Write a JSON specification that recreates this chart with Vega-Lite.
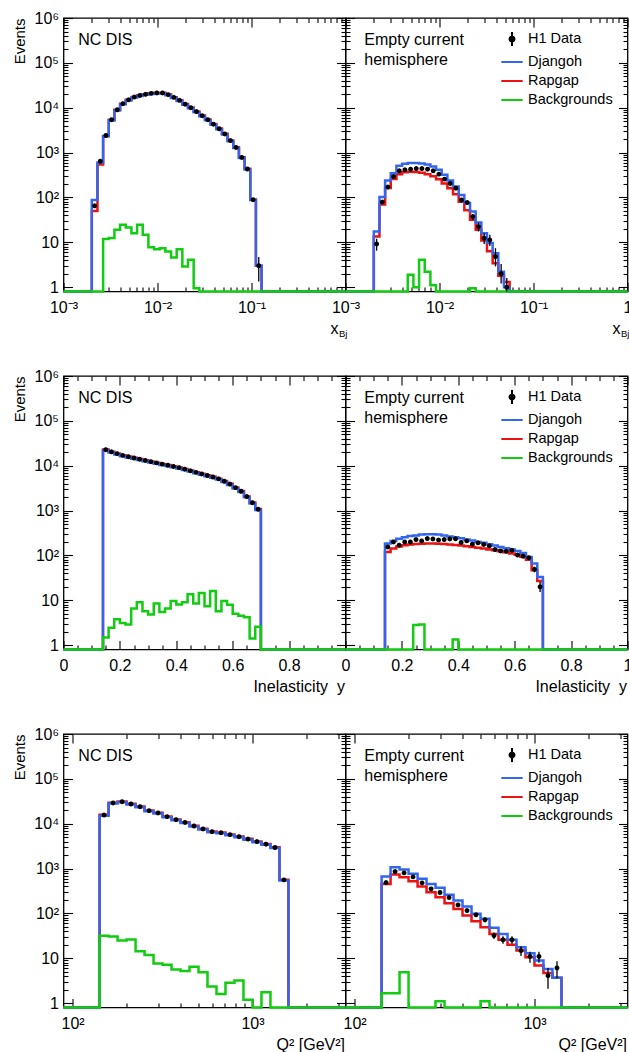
{
"$schema":"https://vega.github.io/schema/vega-lite/v6.json",
"background":"white",
"padding":{"left":10.5,"top":9,"right":0,"bottom":0},
"autosize":{"type":"pad"},
"config":{"font":"Liberation Sans","view":{"stroke":"black","strokeWidth":1.3},
"axis":{"domain":false,"grid":false,"ticks":true,"tickColor":"black","tickOpacity":1,"tickWidth":1.1,"zindex":1,"labelFont":"Liberation Sans","labelFontSize":16,"labelColor":"black","titleFont":"Liberation Sans","titleFontSize":16,"titleFontWeight":"normal","titleColor":"black"},
"legend":{"symbolSize":190,"symbolStrokeWidth":2,"labelFont":"Liberation Sans","labelFontSize":14.5,"labelColor":"black","labelOffset":8,"rowPadding":4,"padding":0}},
"datasets":{
"p1":[
{"x":0.001,"Djangoh":0.8,"Rapgap":0.8,"Backgrounds":0.8},
{"x":0.002,"c":0.002144,"Djangoh":88,"Rapgap":50,"Backgrounds":0.8,"H1 Data":65},
{"x":0.002297,"c":0.002462,"Djangoh":600,"Rapgap":540,"Backgrounds":0.8,"H1 Data":640},
{"x":0.002639,"c":0.002828,"Djangoh":2300,"Rapgap":2350,"Backgrounds":11.8,"H1 Data":2400},
{"x":0.003031,"c":0.003249,"Djangoh":5200,"Rapgap":5400,"Backgrounds":12.4,"H1 Data":5400},
{"x":0.003482,"c":0.003732,"Djangoh":8700,"Rapgap":9000,"Backgrounds":19,"H1 Data":9000},
{"x":0.004,"c":0.004287,"Djangoh":11900,"Rapgap":12300,"Backgrounds":24.5,"H1 Data":12300},
{"x":0.004595,"c":0.004925,"Djangoh":14500,"Rapgap":15000,"Backgrounds":21.5,"H1 Data":15000},
{"x":0.005278,"c":0.005657,"Djangoh":16800,"Rapgap":17300,"Backgrounds":16,"H1 Data":17300},
{"x":0.006063,"c":0.006498,"Djangoh":18300,"Rapgap":18900,"Backgrounds":24.5,"H1 Data":18800},
{"x":0.006964,"c":0.007464,"Djangoh":19400,"Rapgap":20000,"Backgrounds":14.7,"H1 Data":19900},
{"x":0.008,"c":0.008574,"Djangoh":20300,"Rapgap":21000,"Backgrounds":7.8,"H1 Data":20900},
{"x":0.00919,"c":0.009849,"Djangoh":20800,"Rapgap":21600,"Backgrounds":7,"H1 Data":21400},
{"x":0.010556,"c":0.011314,"Djangoh":20800,"Rapgap":21600,"Backgrounds":7.4,"H1 Data":21400},
{"x":0.012126,"c":0.012996,"Djangoh":19000,"Rapgap":19800,"Backgrounds":6.2,"H1 Data":19600},
{"x":0.013929,"c":0.014929,"Djangoh":16500,"Rapgap":17200,"Backgrounds":4.6,"H1 Data":17000},
{"x":0.016,"c":0.017148,"Djangoh":14100,"Rapgap":14700,"Backgrounds":7,"H1 Data":14600},
{"x":0.018379,"c":0.019698,"Djangoh":11600,"Rapgap":12100,"Backgrounds":2.9,"H1 Data":12000},
{"x":0.021112,"c":0.022627,"Djangoh":9700,"Rapgap":10100,"Backgrounds":4.1,"H1 Data":10000},
{"x":0.024251,"c":0.025992,"Djangoh":7950,"Rapgap":8250,"Backgrounds":0.95,"H1 Data":8200},
{"x":0.027858,"c":0.029857,"Djangoh":6450,"Rapgap":6700,"Backgrounds":0.8,"H1 Data":6650},
{"x":0.032,"c":0.034297,"Djangoh":5250,"Rapgap":5450,"Backgrounds":0.8,"H1 Data":5400},
{"x":0.036758,"c":0.039397,"Djangoh":4180,"Rapgap":4350,"Backgrounds":0.8,"H1 Data":4300},
{"x":0.042224,"c":0.045255,"Djangoh":3300,"Rapgap":3430,"Backgrounds":0.8,"H1 Data":3400},
{"x":0.048503,"c":0.051984,"Djangoh":2520,"Rapgap":2620,"Backgrounds":0.8,"H1 Data":2600},
{"x":0.055715,"c":0.059714,"Djangoh":1800,"Rapgap":1870,"Backgrounds":0.8,"H1 Data":1850},
{"x":0.064,"c":0.068594,"Djangoh":1260,"Rapgap":1310,"Backgrounds":0.8,"H1 Data":1300},
{"x":0.073517,"c":0.078793,"Djangoh":760,"Rapgap":790,"Backgrounds":0.8,"H1 Data":780},
{"x":0.084448,"c":0.09051,"Djangoh":420,"Rapgap":435,"Backgrounds":0.8,"H1 Data":430},
{"x":0.097006,"c":0.10397,"Djangoh":88,"Rapgap":90,"Backgrounds":0.8,"H1 Data":89},
{"x":0.11143,"c":0.11943,"Djangoh":3,"Rapgap":3,"Backgrounds":0.8,"H1 Data":3,"lo":1.34,"hi":4.7},
{"x":0.128,"Djangoh":0.8,"Rapgap":0.8,"Backgrounds":0.8},
{"x":1,"Djangoh":0.8,"Rapgap":0.8,"Backgrounds":0.8}],
"p2":[
{"x":0.001,"Djangoh":0.8,"Rapgap":0.8,"Backgrounds":0.8},
{"x":0.002,"c":0.002144,"Djangoh":17.4,"Rapgap":13.5,"Backgrounds":0.8,"H1 Data":9.2,"lo":6.5,"hi":12},
{"x":0.002297,"c":0.002462,"Djangoh":102,"Rapgap":70,"Backgrounds":0.8,"H1 Data":79},
{"x":0.002639,"c":0.002828,"Djangoh":238,"Rapgap":162,"Backgrounds":0.8,"H1 Data":170},
{"x":0.003031,"c":0.003249,"Djangoh":348,"Rapgap":256,"Backgrounds":0.8,"H1 Data":292},
{"x":0.003482,"c":0.003732,"Djangoh":507,"Rapgap":330,"Backgrounds":0.8,"H1 Data":392},
{"x":0.004,"c":0.004287,"Djangoh":562,"Rapgap":365,"Backgrounds":0.8,"H1 Data":412},
{"x":0.004595,"c":0.004925,"Djangoh":582,"Rapgap":375,"Backgrounds":1.9,"H1 Data":427},
{"x":0.005278,"c":0.005657,"Djangoh":582,"Rapgap":370,"Backgrounds":1.0,"H1 Data":441},
{"x":0.006063,"c":0.006498,"Djangoh":570,"Rapgap":355,"Backgrounds":4.1,"H1 Data":441},
{"x":0.006964,"c":0.007464,"Djangoh":540,"Rapgap":330,"Backgrounds":2.2,"H1 Data":427},
{"x":0.008,"c":0.008574,"Djangoh":490,"Rapgap":295,"Backgrounds":1.1,"H1 Data":392},
{"x":0.00919,"c":0.009849,"Djangoh":412,"Rapgap":255,"Backgrounds":0.8,"H1 Data":331},
{"x":0.010556,"c":0.011314,"Djangoh":319,"Rapgap":205,"Backgrounds":0.8,"H1 Data":256},
{"x":0.012126,"c":0.012996,"Djangoh":238,"Rapgap":160,"Backgrounds":0.8,"H1 Data":205},
{"x":0.013929,"c":0.014929,"Djangoh":175,"Rapgap":118,"Backgrounds":0.8,"H1 Data":161},
{"x":0.016,"c":0.017148,"Djangoh":114,"Rapgap":80,"Backgrounds":0.8,"H1 Data":88},
{"x":0.018379,"c":0.019698,"Djangoh":75,"Rapgap":52,"Backgrounds":0.8,"H1 Data":77},
{"x":0.021112,"c":0.022627,"Djangoh":48.5,"Rapgap":32,"Backgrounds":0.95,"H1 Data":37.5,"lo":31.6,"hi":43},
{"x":0.024251,"c":0.025992,"Djangoh":27.6,"Rapgap":19,"Backgrounds":0.8,"H1 Data":22.4,"lo":17.4,"hi":27.5},
{"x":0.027858,"c":0.029857,"Djangoh":16,"Rapgap":11,"Backgrounds":0.8,"H1 Data":12.4,"lo":9.2,"hi":16},
{"x":0.032,"c":0.034297,"Djangoh":9.6,"Rapgap":6.3,"Backgrounds":0.8,"H1 Data":11.3,"lo":8.3,"hi":14.7},
{"x":0.036758,"c":0.039397,"Djangoh":5.7,"Rapgap":3.4,"Backgrounds":0.8,"H1 Data":4.8,"lo":2.9,"hi":7.4},
{"x":0.042224,"c":0.045255,"Djangoh":2.2,"Rapgap":1.8,"Backgrounds":0.8,"H1 Data":2.0,"lo":1.2,"hi":3.3},
{"x":0.048503,"c":0.051984,"Djangoh":1.0,"Rapgap":1.3,"Backgrounds":0.8,"H1 Data":1.0,"lo":0.8,"hi":1.6},
{"x":0.055715,"Djangoh":0.8,"Rapgap":0.8,"Backgrounds":0.8},
{"x":1,"Djangoh":0.8,"Rapgap":0.8,"Backgrounds":0.8}],
"p3":[
{"x":0,"Djangoh":0.8,"Rapgap":0.8,"Backgrounds":0.8},
{"x":0.14,"c":0.15,"Djangoh":21900,"Rapgap":23000,"Backgrounds":1.48,"H1 Data":22800},
{"x":0.16,"c":0.17,"Djangoh":19600,"Rapgap":20600,"Backgrounds":2.43,"H1 Data":20400},
{"x":0.18,"c":0.19,"Djangoh":17850,"Rapgap":18800,"Backgrounds":3.8,"H1 Data":18600},
{"x":0.2,"c":0.21,"Djangoh":16300,"Rapgap":17200,"Backgrounds":3.1,"H1 Data":17000},
{"x":0.22,"c":0.23,"Djangoh":15200,"Rapgap":16000,"Backgrounds":2.9,"H1 Data":15850},
{"x":0.24,"c":0.25,"Djangoh":14250,"Rapgap":15000,"Backgrounds":6.6,"H1 Data":14860},
{"x":0.26,"c":0.27,"Djangoh":13400,"Rapgap":14100,"Backgrounds":9.1,"H1 Data":13960},
{"x":0.28,"c":0.29,"Djangoh":12600,"Rapgap":13250,"Backgrounds":5.7,"H1 Data":13120},
{"x":0.3,"c":0.31,"Djangoh":11800,"Rapgap":12400,"Backgrounds":4.8,"H1 Data":12300},
{"x":0.32,"c":0.33,"Djangoh":11100,"Rapgap":11700,"Backgrounds":8.5,"H1 Data":11560},
{"x":0.34,"c":0.35,"Djangoh":10400,"Rapgap":10950,"Backgrounds":5.5,"H1 Data":10860},
{"x":0.36,"c":0.37,"Djangoh":9820,"Rapgap":10330,"Backgrounds":6.6,"H1 Data":10230},
{"x":0.38,"c":0.39,"Djangoh":9240,"Rapgap":9720,"Backgrounds":9.7,"H1 Data":9620},
{"x":0.4,"c":0.41,"Djangoh":8700,"Rapgap":9150,"Backgrounds":8.1,"H1 Data":9060},
{"x":0.42,"c":0.43,"Djangoh":8030,"Rapgap":8440,"Backgrounds":9.1,"H1 Data":8360},
{"x":0.44,"c":0.45,"Djangoh":7400,"Rapgap":7790,"Backgrounds":13.7,"H1 Data":7710},
{"x":0.46,"c":0.47,"Djangoh":6830,"Rapgap":7180,"Backgrounds":8.5,"H1 Data":7110},
{"x":0.48,"c":0.49,"Djangoh":6300,"Rapgap":6630,"Backgrounds":14.6,"H1 Data":6560},
{"x":0.5,"c":0.51,"Djangoh":5810,"Rapgap":6110,"Backgrounds":7.4,"H1 Data":6050},
{"x":0.52,"c":0.53,"Djangoh":5380,"Rapgap":5660,"Backgrounds":16.2,"H1 Data":5600},
{"x":0.54,"c":0.55,"Djangoh":4900,"Rapgap":5150,"Backgrounds":5.7,"H1 Data":5100},
{"x":0.56,"c":0.57,"Djangoh":4320,"Rapgap":4550,"Backgrounds":9.7,"H1 Data":4500},
{"x":0.58,"c":0.59,"Djangoh":3740,"Rapgap":3940,"Backgrounds":8.0,"H1 Data":3900},
{"x":0.6,"c":0.61,"Djangoh":3120,"Rapgap":3280,"Backgrounds":5.0,"H1 Data":3250},
{"x":0.62,"c":0.63,"Djangoh":2590,"Rapgap":2730,"Backgrounds":4.5,"H1 Data":2700},
{"x":0.64,"c":0.65,"Djangoh":1970,"Rapgap":2070,"Backgrounds":4.2,"H1 Data":2050},
{"x":0.66,"c":0.67,"Djangoh":1440,"Rapgap":1520,"Backgrounds":1.4,"H1 Data":1500},
{"x":0.68,"c":0.69,"Djangoh":1030,"Rapgap":1080,"Backgrounds":2.56,"H1 Data":1070},
{"x":0.7,"Djangoh":0.8,"Rapgap":0.8,"Backgrounds":0.8},
{"x":1,"Djangoh":0.8,"Rapgap":0.8,"Backgrounds":0.8}],
"p4":[
{"x":0,"Djangoh":0.8,"Rapgap":0.8,"Backgrounds":0.8},
{"x":0.14,"c":0.15,"Djangoh":184,"Rapgap":120,"Backgrounds":0.8,"H1 Data":155},
{"x":0.16,"c":0.17,"Djangoh":210,"Rapgap":142,"Backgrounds":0.8,"H1 Data":200},
{"x":0.18,"c":0.19,"Djangoh":234,"Rapgap":158,"Backgrounds":0.8,"H1 Data":169},
{"x":0.2,"c":0.21,"Djangoh":255,"Rapgap":168,"Backgrounds":0.8,"H1 Data":200},
{"x":0.22,"c":0.23,"Djangoh":270,"Rapgap":175,"Backgrounds":0.8,"H1 Data":200},
{"x":0.24,"c":0.25,"Djangoh":280,"Rapgap":180,"Backgrounds":2.8,"H1 Data":226},
{"x":0.26,"c":0.27,"Djangoh":292,"Rapgap":183,"Backgrounds":2.9,"H1 Data":211},
{"x":0.28,"c":0.29,"Djangoh":297,"Rapgap":185,"Backgrounds":0.8,"H1 Data":238},
{"x":0.3,"c":0.31,"Djangoh":297,"Rapgap":185,"Backgrounds":0.8,"H1 Data":233},
{"x":0.32,"c":0.33,"Djangoh":292,"Rapgap":183,"Backgrounds":0.8,"H1 Data":220},
{"x":0.34,"c":0.35,"Djangoh":280,"Rapgap":180,"Backgrounds":0.8,"H1 Data":226},
{"x":0.36,"c":0.37,"Djangoh":266,"Rapgap":176,"Backgrounds":0.8,"H1 Data":233},
{"x":0.38,"c":0.39,"Djangoh":255,"Rapgap":171,"Backgrounds":1.34,"H1 Data":235},
{"x":0.4,"c":0.41,"Djangoh":241,"Rapgap":166,"Backgrounds":0.8,"H1 Data":194},
{"x":0.42,"c":0.43,"Djangoh":226,"Rapgap":160,"Backgrounds":0.8,"H1 Data":211},
{"x":0.44,"c":0.45,"Djangoh":214,"Rapgap":154,"Backgrounds":0.8,"H1 Data":178},
{"x":0.46,"c":0.47,"Djangoh":200,"Rapgap":148,"Backgrounds":0.8,"H1 Data":191},
{"x":0.48,"c":0.49,"Djangoh":191,"Rapgap":142,"Backgrounds":0.8,"H1 Data":176},
{"x":0.5,"c":0.51,"Djangoh":178,"Rapgap":136,"Backgrounds":0.8,"H1 Data":163},
{"x":0.52,"c":0.53,"Djangoh":166,"Rapgap":130,"Backgrounds":0.8,"H1 Data":135},
{"x":0.54,"c":0.55,"Djangoh":155,"Rapgap":124,"Backgrounds":0.8,"H1 Data":126},
{"x":0.56,"c":0.57,"Djangoh":145,"Rapgap":118,"Backgrounds":0.8,"H1 Data":124},
{"x":0.58,"c":0.59,"Djangoh":135,"Rapgap":111,"Backgrounds":0.8,"H1 Data":130},
{"x":0.6,"c":0.61,"Djangoh":126,"Rapgap":103,"Backgrounds":0.8,"H1 Data":102},
{"x":0.62,"c":0.63,"Djangoh":114,"Rapgap":94,"Backgrounds":0.8,"H1 Data":96},
{"x":0.64,"c":0.65,"Djangoh":92,"Rapgap":80,"Backgrounds":0.8,"H1 Data":89},
{"x":0.66,"c":0.67,"Djangoh":66,"Rapgap":47,"Backgrounds":0.8,"H1 Data":49,"lo":42,"hi":56},
{"x":0.68,"c":0.69,"Djangoh":33,"Rapgap":27,"Backgrounds":0.8,"H1 Data":20,"lo":15.4,"hi":25.7},
{"x":0.7,"Djangoh":0.8,"Rapgap":0.8,"Backgrounds":0.8},
{"x":1,"Djangoh":0.8,"Rapgap":0.8,"Backgrounds":0.8}],
"p5":[
{"x":89,"Djangoh":0.8,"Rapgap":0.8,"Backgrounds":0.8},
{"x":141.3,"c":149.6,"Djangoh":15100,"Rapgap":15800,"Backgrounds":32,"H1 Data":15600},
{"x":158.5,"c":167.9,"Djangoh":28100,"Rapgap":29300,"Backgrounds":30.5,"H1 Data":29000},
{"x":177.8,"c":188.4,"Djangoh":30000,"Rapgap":31300,"Backgrounds":24.9,"H1 Data":31000},
{"x":199.5,"c":211.3,"Djangoh":26700,"Rapgap":27800,"Backgrounds":26.2,"H1 Data":27500},
{"x":223.9,"c":237.1,"Djangoh":23300,"Rapgap":24200,"Backgrounds":14.4,"H1 Data":24000},
{"x":251.2,"c":266.1,"Djangoh":18900,"Rapgap":19700,"Backgrounds":11.9,"H1 Data":19500},
{"x":281.8,"c":298.5,"Djangoh":16900,"Rapgap":17600,"Backgrounds":7.7,"H1 Data":17400},
{"x":316.2,"c":335,"Djangoh":13900,"Rapgap":14550,"Backgrounds":7.2,"H1 Data":14400},
{"x":354.8,"c":375.8,"Djangoh":11900,"Rapgap":12400,"Backgrounds":5.6,"H1 Data":12300},
{"x":398.1,"c":421.7,"Djangoh":10400,"Rapgap":10800,"Backgrounds":5.2,"H1 Data":10700},
{"x":446.7,"c":473.2,"Djangoh":8630,"Rapgap":9000,"Backgrounds":6.5,"H1 Data":8900},
{"x":501.2,"c":530.9,"Djangoh":7410,"Rapgap":7720,"Backgrounds":4.9,"H1 Data":7640},
{"x":562.3,"c":595.7,"Djangoh":6450,"Rapgap":6720,"Backgrounds":2.35,"H1 Data":6650},
{"x":631,"c":668.3,"Djangoh":6130,"Rapgap":6380,"Backgrounds":1.6,"H1 Data":6320},
{"x":707.9,"c":749.9,"Djangoh":5540,"Rapgap":5770,"Backgrounds":2.85,"H1 Data":5710},
{"x":794.3,"c":841.4,"Djangoh":5000,"Rapgap":5200,"Backgrounds":3.2,"H1 Data":5150},
{"x":891.3,"c":944.1,"Djangoh":4410,"Rapgap":4600,"Backgrounds":1.19,"H1 Data":4550},
{"x":1000,"c":1059,"Djangoh":3880,"Rapgap":4040,"Backgrounds":0.8,"H1 Data":4000},
{"x":1122,"c":1189,"Djangoh":3400,"Rapgap":3540,"Backgrounds":1.76,"H1 Data":3500},
{"x":1259,"c":1334,"Djangoh":2860,"Rapgap":2980,"Backgrounds":0.8,"H1 Data":2950},
{"x":1413,"c":1496,"Djangoh":545,"Rapgap":565,"Backgrounds":0.8,"H1 Data":560},
{"x":1585,"Djangoh":0.8,"Rapgap":0.8,"Backgrounds":0.8},
{"x":3290,"Djangoh":0.8,"Rapgap":0.8,"Backgrounds":0.8}],
"p6":[
{"x":89,"Djangoh":0.8,"Rapgap":0.8,"Backgrounds":0.8},
{"x":141.3,"c":149.6,"Djangoh":664,"Rapgap":455,"Backgrounds":1.67,"H1 Data":488},
{"x":158.5,"c":167.9,"Djangoh":1070,"Rapgap":735,"Backgrounds":1.67,"H1 Data":857},
{"x":177.8,"c":188.4,"Djangoh":950,"Rapgap":640,"Backgrounds":4.9,"H1 Data":802},
{"x":199.5,"c":211.3,"Djangoh":762,"Rapgap":521,"Backgrounds":0.8,"H1 Data":653},
{"x":223.9,"c":237.1,"Djangoh":590,"Rapgap":398,"Backgrounds":0.8,"H1 Data":480},
{"x":251.2,"c":266.1,"Djangoh":455,"Rapgap":297,"Backgrounds":0.8,"H1 Data":353},
{"x":281.8,"c":298.5,"Djangoh":372,"Rapgap":229,"Backgrounds":1.1,"H1 Data":293},
{"x":316.2,"c":335,"Djangoh":260,"Rapgap":169,"Backgrounds":0.8,"H1 Data":226},
{"x":354.8,"c":375.8,"Djangoh":194,"Rapgap":126,"Backgrounds":0.8,"H1 Data":155},
{"x":398.1,"c":421.7,"Djangoh":143,"Rapgap":90,"Backgrounds":0.8,"H1 Data":116},
{"x":446.7,"c":473.2,"Djangoh":98,"Rapgap":67,"Backgrounds":0.8,"H1 Data":93,"lo":84,"hi":102},
{"x":501.2,"c":530.9,"Djangoh":76,"Rapgap":49,"Backgrounds":1.1,"H1 Data":72,"lo":64,"hi":81},
{"x":562.3,"c":595.7,"Djangoh":48,"Rapgap":35,"Backgrounds":0.8,"H1 Data":32,"lo":27,"hi":37.5},
{"x":631,"c":668.3,"Djangoh":35,"Rapgap":26,"Backgrounds":0.8,"H1 Data":25.8,"lo":21,"hi":31},
{"x":707.9,"c":749.9,"Djangoh":26,"Rapgap":20,"Backgrounds":0.8,"H1 Data":25.8,"lo":21,"hi":31},
{"x":794.3,"c":841.4,"Djangoh":17.7,"Rapgap":14.9,"Backgrounds":0.8,"H1 Data":14.9,"lo":11.2,"hi":18.6},
{"x":891.3,"c":944.1,"Djangoh":13,"Rapgap":10.6,"Backgrounds":0.8,"H1 Data":11,"lo":8,"hi":14},
{"x":1000,"c":1059,"Djangoh":8.9,"Rapgap":6.9,"Backgrounds":0.8,"H1 Data":11,"lo":8,"hi":14},
{"x":1122,"c":1189,"Djangoh":5.8,"Rapgap":4.7,"Backgrounds":0.8,"H1 Data":4.1,"lo":2.1,"hi":6.1},
{"x":1259,"c":1334,"Djangoh":3.7,"Rapgap":3.7,"Backgrounds":0.8,"H1 Data":6.1,"lo":3.6,"hi":8.6},
{"x":1413,"Djangoh":0.8,"Rapgap":0.8,"Backgrounds":0.8},
{"x":3290,"Djangoh":0.8,"Rapgap":0.8,"Backgrounds":0.8}]
},
"columns":2,
"spacing":{"row":84,"column":0},
"bounds":"flush",
"resolve":{"scale":{"stroke":"independent","fill":"independent","shape":"independent"}},
"concat":[
{"width":282,"height":273.5,"data":{"name":"p1"},"resolve":{"axis":{"x":"independent","y":"independent"}},"layer":[
{"transform":[{"fold":["Rapgap"],"as":["s","v"]}],"mark":{"type":"line","interpolate":"step-after","strokeWidth":2.5},"encoding":{
"x":{"field":"x","type":"quantitative","scale":{"type":"log","domain":[0.001,1],"nice":false},"axis":{"orient":"bottom","values":[0.002,0.003,0.004,0.005,0.006,0.007,0.008,0.009,0.02,0.03,0.04,0.05,0.06,0.07,0.08,0.09,0.2,0.3,0.4,0.5,0.6,0.7,0.8,0.9],"tickSize":4.5,"offset":-4.5,"labelExpr":"''","labelPadding":0,"labelFontSize":1,"title":null}},
"y":{"field":"v","type":"quantitative","scale":{"type":"log","domain":[0.8,1000000],"nice":false},"axis":{"orient":"left","values":[2,3,4,5,6,7,8,9,20,30,40,50,60,70,80,90,200,300,400,500,600,700,800,900,2000,3000,4000,5000,6000,7000,8000,9000,20000,30000,40000,50000,60000,70000,80000,90000,200000,300000,400000,500000,600000,700000,800000,900000],"tickSize":4.5,"offset":-4.5,"labelExpr":"''","labelPadding":0,"labelFontSize":1,"title":null}},
"stroke":{"field":"s","type":"nominal","scale":{"domain":["H1 Data","Djangoh","Rapgap","Backgrounds"],"range":["#000000","#3366ee","#ee1111","#11cc11"]},"legend":null}}},
{"transform":[{"fold":["Djangoh"],"as":["s","v"]}],"mark":{"type":"line","interpolate":"step-after","strokeWidth":2.5},"encoding":{
"x":{"field":"x","type":"quantitative","scale":{"type":"log","domain":[0.001,1],"nice":false},"axis":{"orient":"bottom","values":[0.001,0.01,0.1],"tickSize":9,"offset":-9,"labelPadding":8,"labelOverlap":false,"labelFlush":false,"labelExpr":"datum.value==0.001?'10⁻³':datum.value==0.01?'10⁻²':datum.value==0.1?'10⁻¹':'1'","title":"x","titleX":274.5,"titleY":50.6,"titleAlign":"right","titleBaseline":"alphabetic"}},
"y":{"field":"v","type":"quantitative","scale":{"type":"log","domain":[0.8,1000000],"nice":false},"axis":{"orient":"left","values":[1,10,100,1000,10000,100000,1000000],"tickSize":9,"offset":-9,"labelPadding":5,"labelOverlap":false,"labelFlush":false,"labelExpr":"datum.value==1?'1':datum.value==10?'10':datum.value==100?'10²':datum.value==1000?'10³':datum.value==10000?'10⁴':datum.value==100000?'10⁵':'10⁶'","title":"Events","titleX":-53.5,"titleY":0,"titleAlign":"right","titleAngle":-90,"titleBaseline":"middle","titleFontSize":15}},
"stroke":{"field":"s","type":"nominal","scale":{"domain":["H1 Data","Djangoh","Rapgap","Backgrounds"],"range":["#000000","#3366ee","#ee1111","#11cc11"]},"legend":null}}},
{"transform":[{"fold":["Backgrounds"],"as":["s","v"]}],"mark":{"type":"line","interpolate":"step-after","strokeWidth":2.5},"encoding":{
"x":{"field":"x","type":"quantitative","scale":{"type":"log","domain":[0.001,1],"nice":false},"axis":{"orient":"top","values":[0.001,0.01,0.1,1],"tickSize":9,"offset":-9,"labelExpr":"''","labelPadding":0,"labelFontSize":1,"title":null}},
"y":{"field":"v","type":"quantitative","scale":{"type":"log","domain":[0.8,1000000],"nice":false},"axis":{"orient":"right","values":[1,10,100,1000,10000,100000,1000000],"tickSize":9,"offset":-9,"labelExpr":"''","labelPadding":0,"labelFontSize":1,"title":null}},
"stroke":{"field":"s","type":"nominal","scale":{"domain":["H1 Data","Djangoh","Rapgap","Backgrounds"],"range":["#000000","#3366ee","#ee1111","#11cc11"]},"legend":null}}},
{"transform":[{"filter":"isValid(datum.lo)"}],"mark":{"type":"rule","color":"black","strokeWidth":1.3},"encoding":{
"x":{"field":"c","type":"quantitative","scale":{"type":"log","domain":[0.001,1],"nice":false},"axis":{"orient":"bottom","ticks":false,"labels":false,"title":"Bj","titleX":275,"titleY":44.5,"titleAlign":"left","titleBaseline":"alphabetic","titleFontSize":9.5}},
"y":{"field":"lo","type":"quantitative","scale":{"type":"log","domain":[0.8,1000000],"nice":false},"axis":null},"y2":{"field":"hi"}}},
{"transform":[{"fold":["H1 Data"],"as":["s","v"]},{"filter":"isValid(datum.v)"}],"mark":{"type":"point","filled":true,"size":190,"opacity":1},"encoding":{
"x":{"field":"c","type":"quantitative","scale":{"type":"log","domain":[0.001,1],"nice":false},"axis":{"orient":"top","values":[0.002,0.003,0.004,0.005,0.006,0.007,0.008,0.009,0.02,0.03,0.04,0.05,0.06,0.07,0.08,0.09,0.2,0.3,0.4,0.5,0.6,0.7,0.8,0.9],"tickSize":4.5,"offset":-4.5,"labelExpr":"''","labelPadding":0,"labelFontSize":1,"title":null}},
"y":{"field":"v","type":"quantitative","scale":{"type":"log","domain":[0.8,1000000],"nice":false},"axis":{"orient":"right","values":[2,3,4,5,6,7,8,9,20,30,40,50,60,70,80,90,200,300,400,500,600,700,800,900,2000,3000,4000,5000,6000,7000,8000,9000,20000,30000,40000,50000,60000,70000,80000,90000,200000,300000,400000,500000,600000,700000,800000,900000],"tickSize":4.5,"offset":-4.5,"labelExpr":"''","labelPadding":0,"labelFontSize":1,"title":null}},
"fill":{"field":"s","type":"nominal","scale":{"domain":["H1 Data","Djangoh","Rapgap","Backgrounds"],"range":["#000000","#3366ee","#ee1111","#11cc11"]},"legend":null},
"shape":{"field":"s","type":"nominal","scale":{"domain":["H1 Data","Djangoh","Rapgap","Backgrounds"],"range":["M0,-1L0,1M0.36,0L0.312,0.18L0.18,0.312L0,0.36L-0.18,0.312L-0.312,0.18L-0.36,0L-0.312,-0.18L-0.18,-0.312L0,-0.36L0.18,-0.312L0.312,-0.18Z","M-1.55,0L1.55,0","M-1.55,0L1.55,0","M-1.55,0L1.55,0"]},"legend":null}}},
{"data":{"values":[{}]},"mark":{"type":"text","text":"NC DIS","align":"left","baseline":"alphabetic","fontSize":16,"lineHeight":20,"color":"black"},"encoding":{
"x":{"datum":0.001437,"type":"quantitative","scale":{"type":"log","domain":[0.001,1],"nice":false},"axis":null},
"y":{"datum":246000,"type":"quantitative","scale":{"type":"log","domain":[0.8,1000000],"nice":false},"axis":null}}}
]},
{"width":282,"height":273.5,"data":{"name":"p2"},"resolve":{"axis":{"x":"independent","y":"independent"}},"layer":[
{"transform":[{"fold":["Rapgap"],"as":["s","v"]}],"mark":{"type":"line","interpolate":"step-after","strokeWidth":2.5},"encoding":{
"x":{"field":"x","type":"quantitative","scale":{"type":"log","domain":[0.001,1],"nice":false},"axis":{"orient":"bottom","values":[0.002,0.003,0.004,0.005,0.006,0.007,0.008,0.009,0.02,0.03,0.04,0.05,0.06,0.07,0.08,0.09,0.2,0.3,0.4,0.5,0.6,0.7,0.8,0.9],"tickSize":4.5,"offset":-4.5,"labelExpr":"''","labelPadding":0,"labelFontSize":1,"title":null}},
"y":{"field":"v","type":"quantitative","scale":{"type":"log","domain":[0.8,1000000],"nice":false},"axis":{"orient":"left","values":[2,3,4,5,6,7,8,9,20,30,40,50,60,70,80,90,200,300,400,500,600,700,800,900,2000,3000,4000,5000,6000,7000,8000,9000,20000,30000,40000,50000,60000,70000,80000,90000,200000,300000,400000,500000,600000,700000,800000,900000],"tickSize":4.5,"offset":-4.5,"labelExpr":"''","labelPadding":0,"labelFontSize":1,"title":null}},
"stroke":{"field":"s","type":"nominal","scale":{"domain":["H1 Data","Djangoh","Rapgap","Backgrounds"],"range":["#000000","#3366ee","#ee1111","#11cc11"]},"legend":{"orient":"none","legendX":158.5,"legendY":13,"title":null}}}},
{"transform":[{"fold":["Djangoh"],"as":["s","v"]}],"mark":{"type":"line","interpolate":"step-after","strokeWidth":2.5},"encoding":{
"x":{"field":"x","type":"quantitative","scale":{"type":"log","domain":[0.001,1],"nice":false},"axis":{"orient":"bottom","values":[0.001,0.01,0.1,1],"tickSize":9,"offset":-9,"labelPadding":8,"labelOverlap":false,"labelFlush":false,"labelExpr":"datum.value==0.001?'10⁻³':datum.value==0.01?'10⁻²':datum.value==0.1?'10⁻¹':'1'","title":"x","titleX":274.5,"titleY":50.6,"titleAlign":"right","titleBaseline":"alphabetic"}},
"y":{"field":"v","type":"quantitative","scale":{"type":"log","domain":[0.8,1000000],"nice":false},"axis":{"orient":"left","values":[1,10,100,1000,10000,100000,1000000],"tickSize":9,"offset":-9,"labelExpr":"''","labelPadding":0,"labelFontSize":1,"title":null}},
"stroke":{"field":"s","type":"nominal","scale":{"domain":["H1 Data","Djangoh","Rapgap","Backgrounds"],"range":["#000000","#3366ee","#ee1111","#11cc11"]},"legend":{"orient":"none","legendX":158.5,"legendY":13,"title":null}}}},
{"transform":[{"fold":["Backgrounds"],"as":["s","v"]}],"mark":{"type":"line","interpolate":"step-after","strokeWidth":2.5},"encoding":{
"x":{"field":"x","type":"quantitative","scale":{"type":"log","domain":[0.001,1],"nice":false},"axis":{"orient":"top","values":[0.001,0.01,0.1,1],"tickSize":9,"offset":-9,"labelExpr":"''","labelPadding":0,"labelFontSize":1,"title":null}},
"y":{"field":"v","type":"quantitative","scale":{"type":"log","domain":[0.8,1000000],"nice":false},"axis":{"orient":"right","values":[1,10,100,1000,10000,100000,1000000],"tickSize":9,"offset":-9,"labelExpr":"''","labelPadding":0,"labelFontSize":1,"title":null}},
"stroke":{"field":"s","type":"nominal","scale":{"domain":["H1 Data","Djangoh","Rapgap","Backgrounds"],"range":["#000000","#3366ee","#ee1111","#11cc11"]},"legend":{"orient":"none","legendX":158.5,"legendY":13,"title":null}}}},
{"transform":[{"filter":"isValid(datum.lo)"}],"mark":{"type":"rule","color":"black","strokeWidth":1.3},"encoding":{
"x":{"field":"c","type":"quantitative","scale":{"type":"log","domain":[0.001,1],"nice":false},"axis":{"orient":"bottom","ticks":false,"labels":false,"title":"Bj","titleX":275,"titleY":44.5,"titleAlign":"left","titleBaseline":"alphabetic","titleFontSize":9.5}},
"y":{"field":"lo","type":"quantitative","scale":{"type":"log","domain":[0.8,1000000],"nice":false},"axis":null},"y2":{"field":"hi"}}},
{"transform":[{"fold":["H1 Data"],"as":["s","v"]},{"filter":"isValid(datum.v)"}],"mark":{"type":"point","filled":true,"size":190,"opacity":1},"encoding":{
"x":{"field":"c","type":"quantitative","scale":{"type":"log","domain":[0.001,1],"nice":false},"axis":{"orient":"top","values":[0.002,0.003,0.004,0.005,0.006,0.007,0.008,0.009,0.02,0.03,0.04,0.05,0.06,0.07,0.08,0.09,0.2,0.3,0.4,0.5,0.6,0.7,0.8,0.9],"tickSize":4.5,"offset":-4.5,"labelExpr":"''","labelPadding":0,"labelFontSize":1,"title":null}},
"y":{"field":"v","type":"quantitative","scale":{"type":"log","domain":[0.8,1000000],"nice":false},"axis":{"orient":"right","values":[2,3,4,5,6,7,8,9,20,30,40,50,60,70,80,90,200,300,400,500,600,700,800,900,2000,3000,4000,5000,6000,7000,8000,9000,20000,30000,40000,50000,60000,70000,80000,90000,200000,300000,400000,500000,600000,700000,800000,900000],"tickSize":4.5,"offset":-4.5,"labelExpr":"''","labelPadding":0,"labelFontSize":1,"title":null}},
"fill":{"field":"s","type":"nominal","scale":{"domain":["H1 Data","Djangoh","Rapgap","Backgrounds"],"range":["#000000","#3366ee","#ee1111","#11cc11"]},"legend":{"orient":"none","legendX":158.5,"legendY":13,"title":null}},
"shape":{"field":"s","type":"nominal","scale":{"domain":["H1 Data","Djangoh","Rapgap","Backgrounds"],"range":["M0,-1L0,1M0.36,0L0.312,0.18L0.18,0.312L0,0.36L-0.18,0.312L-0.312,0.18L-0.36,0L-0.312,-0.18L-0.18,-0.312L0,-0.36L0.18,-0.312L0.312,-0.18Z","M-1.55,0L1.55,0","M-1.55,0L1.55,0","M-1.55,0L1.55,0"]},"legend":{"orient":"none","legendX":158.5,"legendY":13,"title":null}}}},
{"data":{"values":[{}]},"mark":{"type":"text","text":["Empty current","hemisphere"],"align":"left","baseline":"alphabetic","fontSize":16,"lineHeight":20,"color":"black"},"encoding":{
"x":{"datum":0.001585,"type":"quantitative","scale":{"type":"log","domain":[0.001,1],"nice":false},"axis":null},
"y":{"datum":246000,"type":"quantitative","scale":{"type":"log","domain":[0.8,1000000],"nice":false},"axis":null}}}
]},
{"width":282,"height":273.5,"data":{"name":"p3"},"resolve":{"axis":{"x":"independent","y":"independent"}},"layer":[
{"transform":[{"fold":["Rapgap"],"as":["s","v"]}],"mark":{"type":"line","interpolate":"step-after","strokeWidth":2.5},"encoding":{
"x":{"field":"x","type":"quantitative","scale":{"type":"linear","domain":[0,1],"nice":false,"zero":false},"axis":{"orient":"bottom","values":[0.05,0.1,0.15,0.25,0.3,0.35,0.45,0.5,0.55,0.65,0.7,0.75,0.85,0.9,0.95],"tickSize":4.5,"offset":-4.5,"labelExpr":"''","labelPadding":0,"labelFontSize":1,"title":null}},
"y":{"field":"v","type":"quantitative","scale":{"type":"log","domain":[0.8,1000000],"nice":false},"axis":{"orient":"left","values":[2,3,4,5,6,7,8,9,20,30,40,50,60,70,80,90,200,300,400,500,600,700,800,900,2000,3000,4000,5000,6000,7000,8000,9000,20000,30000,40000,50000,60000,70000,80000,90000,200000,300000,400000,500000,600000,700000,800000,900000],"tickSize":4.5,"offset":-4.5,"labelExpr":"''","labelPadding":0,"labelFontSize":1,"title":null}},
"stroke":{"field":"s","type":"nominal","scale":{"domain":["H1 Data","Djangoh","Rapgap","Backgrounds"],"range":["#000000","#3366ee","#ee1111","#11cc11"]},"legend":null}}},
{"transform":[{"fold":["Djangoh"],"as":["s","v"]}],"mark":{"type":"line","interpolate":"step-after","strokeWidth":2.5},"encoding":{
"x":{"field":"x","type":"quantitative","scale":{"type":"linear","domain":[0,1],"nice":false,"zero":false},"axis":{"orient":"bottom","values":[0,0.2,0.4,0.6,0.8],"format":".1~f","tickSize":9,"offset":-9,"labelPadding":8,"labelOverlap":false,"labelFlush":false,"title":"Inelasticity\u00a0\u00a0y","titleX":281,"titleY":51.4,"titleAlign":"right","titleBaseline":"alphabetic"}},
"y":{"field":"v","type":"quantitative","scale":{"type":"log","domain":[0.8,1000000],"nice":false},"axis":{"orient":"left","values":[1,10,100,1000,10000,100000,1000000],"tickSize":9,"offset":-9,"labelPadding":5,"labelOverlap":false,"labelFlush":false,"labelExpr":"datum.value==1?'1':datum.value==10?'10':datum.value==100?'10²':datum.value==1000?'10³':datum.value==10000?'10⁴':datum.value==100000?'10⁵':'10⁶'","title":"Events","titleX":-53.5,"titleY":0,"titleAlign":"right","titleAngle":-90,"titleBaseline":"middle","titleFontSize":15}},
"stroke":{"field":"s","type":"nominal","scale":{"domain":["H1 Data","Djangoh","Rapgap","Backgrounds"],"range":["#000000","#3366ee","#ee1111","#11cc11"]},"legend":null}}},
{"transform":[{"fold":["Backgrounds"],"as":["s","v"]}],"mark":{"type":"line","interpolate":"step-after","strokeWidth":2.5},"encoding":{
"x":{"field":"x","type":"quantitative","scale":{"type":"linear","domain":[0,1],"nice":false,"zero":false},"axis":{"orient":"top","values":[0,0.2,0.4,0.6,0.8,1],"tickSize":9,"offset":-9,"labelExpr":"''","labelPadding":0,"labelFontSize":1,"title":null}},
"y":{"field":"v","type":"quantitative","scale":{"type":"log","domain":[0.8,1000000],"nice":false},"axis":{"orient":"right","values":[1,10,100,1000,10000,100000,1000000],"tickSize":9,"offset":-9,"labelExpr":"''","labelPadding":0,"labelFontSize":1,"title":null}},
"stroke":{"field":"s","type":"nominal","scale":{"domain":["H1 Data","Djangoh","Rapgap","Backgrounds"],"range":["#000000","#3366ee","#ee1111","#11cc11"]},"legend":null}}},
{"transform":[{"filter":"isValid(datum.lo)"}],"mark":{"type":"rule","color":"black","strokeWidth":1.3},"encoding":{
"x":{"field":"c","type":"quantitative","scale":{"type":"linear","domain":[0,1],"nice":false,"zero":false},"axis":null},
"y":{"field":"lo","type":"quantitative","scale":{"type":"log","domain":[0.8,1000000],"nice":false},"axis":null},"y2":{"field":"hi"}}},
{"transform":[{"fold":["H1 Data"],"as":["s","v"]},{"filter":"isValid(datum.v)"}],"mark":{"type":"point","filled":true,"size":190,"opacity":1},"encoding":{
"x":{"field":"c","type":"quantitative","scale":{"type":"linear","domain":[0,1],"nice":false,"zero":false},"axis":{"orient":"top","values":[0.05,0.1,0.15,0.25,0.3,0.35,0.45,0.5,0.55,0.65,0.7,0.75,0.85,0.9,0.95],"tickSize":4.5,"offset":-4.5,"labelExpr":"''","labelPadding":0,"labelFontSize":1,"title":null}},
"y":{"field":"v","type":"quantitative","scale":{"type":"log","domain":[0.8,1000000],"nice":false},"axis":{"orient":"right","values":[2,3,4,5,6,7,8,9,20,30,40,50,60,70,80,90,200,300,400,500,600,700,800,900,2000,3000,4000,5000,6000,7000,8000,9000,20000,30000,40000,50000,60000,70000,80000,90000,200000,300000,400000,500000,600000,700000,800000,900000],"tickSize":4.5,"offset":-4.5,"labelExpr":"''","labelPadding":0,"labelFontSize":1,"title":null}},
"fill":{"field":"s","type":"nominal","scale":{"domain":["H1 Data","Djangoh","Rapgap","Backgrounds"],"range":["#000000","#3366ee","#ee1111","#11cc11"]},"legend":null},
"shape":{"field":"s","type":"nominal","scale":{"domain":["H1 Data","Djangoh","Rapgap","Backgrounds"],"range":["M0,-1L0,1M0.36,0L0.312,0.18L0.18,0.312L0,0.36L-0.18,0.312L-0.312,0.18L-0.36,0L-0.312,-0.18L-0.18,-0.312L0,-0.36L0.18,-0.312L0.312,-0.18Z","M-1.55,0L1.55,0","M-1.55,0L1.55,0","M-1.55,0L1.55,0"]},"legend":null}}},
{"data":{"values":[{}]},"mark":{"type":"text","text":"NC DIS","align":"left","baseline":"alphabetic","fontSize":16,"lineHeight":20,"color":"black"},"encoding":{
"x":{"datum":0.0525,"type":"quantitative","scale":{"type":"linear","domain":[0,1],"nice":false,"zero":false},"axis":null},
"y":{"datum":246000,"type":"quantitative","scale":{"type":"log","domain":[0.8,1000000],"nice":false},"axis":null}}}
]},
{"width":282,"height":273.5,"data":{"name":"p4"},"resolve":{"axis":{"x":"independent","y":"independent"}},"layer":[
{"transform":[{"fold":["Rapgap"],"as":["s","v"]}],"mark":{"type":"line","interpolate":"step-after","strokeWidth":2.5},"encoding":{
"x":{"field":"x","type":"quantitative","scale":{"type":"linear","domain":[0,1],"nice":false,"zero":false},"axis":{"orient":"bottom","values":[0.05,0.1,0.15,0.25,0.3,0.35,0.45,0.5,0.55,0.65,0.7,0.75,0.85,0.9,0.95],"tickSize":4.5,"offset":-4.5,"labelExpr":"''","labelPadding":0,"labelFontSize":1,"title":null}},
"y":{"field":"v","type":"quantitative","scale":{"type":"log","domain":[0.8,1000000],"nice":false},"axis":{"orient":"left","values":[2,3,4,5,6,7,8,9,20,30,40,50,60,70,80,90,200,300,400,500,600,700,800,900,2000,3000,4000,5000,6000,7000,8000,9000,20000,30000,40000,50000,60000,70000,80000,90000,200000,300000,400000,500000,600000,700000,800000,900000],"tickSize":4.5,"offset":-4.5,"labelExpr":"''","labelPadding":0,"labelFontSize":1,"title":null}},
"stroke":{"field":"s","type":"nominal","scale":{"domain":["H1 Data","Djangoh","Rapgap","Backgrounds"],"range":["#000000","#3366ee","#ee1111","#11cc11"]},"legend":{"orient":"none","legendX":158.5,"legendY":13,"title":null}}}},
{"transform":[{"fold":["Djangoh"],"as":["s","v"]}],"mark":{"type":"line","interpolate":"step-after","strokeWidth":2.5},"encoding":{
"x":{"field":"x","type":"quantitative","scale":{"type":"linear","domain":[0,1],"nice":false,"zero":false},"axis":{"orient":"bottom","values":[0,0.2,0.4,0.6,0.8,1],"format":".1~f","tickSize":9,"offset":-9,"labelPadding":8,"labelOverlap":false,"labelFlush":false,"title":"Inelasticity\u00a0\u00a0y","titleX":281,"titleY":51.4,"titleAlign":"right","titleBaseline":"alphabetic"}},
"y":{"field":"v","type":"quantitative","scale":{"type":"log","domain":[0.8,1000000],"nice":false},"axis":{"orient":"left","values":[1,10,100,1000,10000,100000,1000000],"tickSize":9,"offset":-9,"labelExpr":"''","labelPadding":0,"labelFontSize":1,"title":null}},
"stroke":{"field":"s","type":"nominal","scale":{"domain":["H1 Data","Djangoh","Rapgap","Backgrounds"],"range":["#000000","#3366ee","#ee1111","#11cc11"]},"legend":{"orient":"none","legendX":158.5,"legendY":13,"title":null}}}},
{"transform":[{"fold":["Backgrounds"],"as":["s","v"]}],"mark":{"type":"line","interpolate":"step-after","strokeWidth":2.5},"encoding":{
"x":{"field":"x","type":"quantitative","scale":{"type":"linear","domain":[0,1],"nice":false,"zero":false},"axis":{"orient":"top","values":[0,0.2,0.4,0.6,0.8,1],"tickSize":9,"offset":-9,"labelExpr":"''","labelPadding":0,"labelFontSize":1,"title":null}},
"y":{"field":"v","type":"quantitative","scale":{"type":"log","domain":[0.8,1000000],"nice":false},"axis":{"orient":"right","values":[1,10,100,1000,10000,100000,1000000],"tickSize":9,"offset":-9,"labelExpr":"''","labelPadding":0,"labelFontSize":1,"title":null}},
"stroke":{"field":"s","type":"nominal","scale":{"domain":["H1 Data","Djangoh","Rapgap","Backgrounds"],"range":["#000000","#3366ee","#ee1111","#11cc11"]},"legend":{"orient":"none","legendX":158.5,"legendY":13,"title":null}}}},
{"transform":[{"filter":"isValid(datum.lo)"}],"mark":{"type":"rule","color":"black","strokeWidth":1.3},"encoding":{
"x":{"field":"c","type":"quantitative","scale":{"type":"linear","domain":[0,1],"nice":false,"zero":false},"axis":null},
"y":{"field":"lo","type":"quantitative","scale":{"type":"log","domain":[0.8,1000000],"nice":false},"axis":null},"y2":{"field":"hi"}}},
{"transform":[{"fold":["H1 Data"],"as":["s","v"]},{"filter":"isValid(datum.v)"}],"mark":{"type":"point","filled":true,"size":190,"opacity":1},"encoding":{
"x":{"field":"c","type":"quantitative","scale":{"type":"linear","domain":[0,1],"nice":false,"zero":false},"axis":{"orient":"top","values":[0.05,0.1,0.15,0.25,0.3,0.35,0.45,0.5,0.55,0.65,0.7,0.75,0.85,0.9,0.95],"tickSize":4.5,"offset":-4.5,"labelExpr":"''","labelPadding":0,"labelFontSize":1,"title":null}},
"y":{"field":"v","type":"quantitative","scale":{"type":"log","domain":[0.8,1000000],"nice":false},"axis":{"orient":"right","values":[2,3,4,5,6,7,8,9,20,30,40,50,60,70,80,90,200,300,400,500,600,700,800,900,2000,3000,4000,5000,6000,7000,8000,9000,20000,30000,40000,50000,60000,70000,80000,90000,200000,300000,400000,500000,600000,700000,800000,900000],"tickSize":4.5,"offset":-4.5,"labelExpr":"''","labelPadding":0,"labelFontSize":1,"title":null}},
"fill":{"field":"s","type":"nominal","scale":{"domain":["H1 Data","Djangoh","Rapgap","Backgrounds"],"range":["#000000","#3366ee","#ee1111","#11cc11"]},"legend":{"orient":"none","legendX":158.5,"legendY":13,"title":null}},
"shape":{"field":"s","type":"nominal","scale":{"domain":["H1 Data","Djangoh","Rapgap","Backgrounds"],"range":["M0,-1L0,1M0.36,0L0.312,0.18L0.18,0.312L0,0.36L-0.18,0.312L-0.312,0.18L-0.36,0L-0.312,-0.18L-0.18,-0.312L0,-0.36L0.18,-0.312L0.312,-0.18Z","M-1.55,0L1.55,0","M-1.55,0L1.55,0","M-1.55,0L1.55,0"]},"legend":{"orient":"none","legendX":158.5,"legendY":13,"title":null}}}},
{"data":{"values":[{}]},"mark":{"type":"text","text":["Empty current","hemisphere"],"align":"left","baseline":"alphabetic","fontSize":16,"lineHeight":20,"color":"black"},"encoding":{
"x":{"datum":0.0667,"type":"quantitative","scale":{"type":"linear","domain":[0,1],"nice":false,"zero":false},"axis":null},
"y":{"datum":246000,"type":"quantitative","scale":{"type":"log","domain":[0.8,1000000],"nice":false},"axis":null}}}
]},
{"width":282,"height":273.5,"data":{"name":"p5"},"resolve":{"axis":{"x":"independent","y":"independent"}},"layer":[
{"transform":[{"fold":["Rapgap"],"as":["s","v"]}],"mark":{"type":"line","interpolate":"step-after","strokeWidth":2.5},"encoding":{
"x":{"field":"x","type":"quantitative","scale":{"type":"log","domain":[89,3290],"nice":false},"axis":{"orient":"bottom","values":[200,300,400,500,600,700,800,900,2000,3000],"tickSize":4.5,"offset":-4.5,"labelExpr":"''","labelPadding":0,"labelFontSize":1,"title":null}},
"y":{"field":"v","type":"quantitative","scale":{"type":"log","domain":[0.8,1000000],"nice":false},"axis":{"orient":"left","values":[2,3,4,5,6,7,8,9,20,30,40,50,60,70,80,90,200,300,400,500,600,700,800,900,2000,3000,4000,5000,6000,7000,8000,9000,20000,30000,40000,50000,60000,70000,80000,90000,200000,300000,400000,500000,600000,700000,800000,900000],"tickSize":4.5,"offset":-4.5,"labelExpr":"''","labelPadding":0,"labelFontSize":1,"title":null}},
"stroke":{"field":"s","type":"nominal","scale":{"domain":["H1 Data","Djangoh","Rapgap","Backgrounds"],"range":["#000000","#3366ee","#ee1111","#11cc11"]},"legend":null}}},
{"transform":[{"fold":["Djangoh"],"as":["s","v"]}],"mark":{"type":"line","interpolate":"step-after","strokeWidth":2.5},"encoding":{
"x":{"field":"x","type":"quantitative","scale":{"type":"log","domain":[89,3290],"nice":false},"axis":{"orient":"bottom","values":[100,1000],"tickSize":9,"offset":-9,"labelPadding":8,"labelOverlap":false,"labelFlush":false,"labelExpr":"datum.value==100?'10²':'10³'","title":"Q² [GeV²]","titleX":281,"titleY":51.3,"titleAlign":"right","titleBaseline":"alphabetic"}},
"y":{"field":"v","type":"quantitative","scale":{"type":"log","domain":[0.8,1000000],"nice":false},"axis":{"orient":"left","values":[1,10,100,1000,10000,100000,1000000],"tickSize":9,"offset":-9,"labelPadding":5,"labelOverlap":false,"labelFlush":false,"labelExpr":"datum.value==1?'1':datum.value==10?'10':datum.value==100?'10²':datum.value==1000?'10³':datum.value==10000?'10⁴':datum.value==100000?'10⁵':'10⁶'","title":"Events","titleX":-53.5,"titleY":0,"titleAlign":"right","titleAngle":-90,"titleBaseline":"middle","titleFontSize":15}},
"stroke":{"field":"s","type":"nominal","scale":{"domain":["H1 Data","Djangoh","Rapgap","Backgrounds"],"range":["#000000","#3366ee","#ee1111","#11cc11"]},"legend":null}}},
{"transform":[{"fold":["Backgrounds"],"as":["s","v"]}],"mark":{"type":"line","interpolate":"step-after","strokeWidth":2.5},"encoding":{
"x":{"field":"x","type":"quantitative","scale":{"type":"log","domain":[89,3290],"nice":false},"axis":{"orient":"top","values":[100,1000],"tickSize":9,"offset":-9,"labelExpr":"''","labelPadding":0,"labelFontSize":1,"title":null}},
"y":{"field":"v","type":"quantitative","scale":{"type":"log","domain":[0.8,1000000],"nice":false},"axis":{"orient":"right","values":[1,10,100,1000,10000,100000,1000000],"tickSize":9,"offset":-9,"labelExpr":"''","labelPadding":0,"labelFontSize":1,"title":null}},
"stroke":{"field":"s","type":"nominal","scale":{"domain":["H1 Data","Djangoh","Rapgap","Backgrounds"],"range":["#000000","#3366ee","#ee1111","#11cc11"]},"legend":null}}},
{"transform":[{"filter":"isValid(datum.lo)"}],"mark":{"type":"rule","color":"black","strokeWidth":1.3},"encoding":{
"x":{"field":"c","type":"quantitative","scale":{"type":"log","domain":[89,3290],"nice":false},"axis":null},
"y":{"field":"lo","type":"quantitative","scale":{"type":"log","domain":[0.8,1000000],"nice":false},"axis":null},"y2":{"field":"hi"}}},
{"transform":[{"fold":["H1 Data"],"as":["s","v"]},{"filter":"isValid(datum.v)"}],"mark":{"type":"point","filled":true,"size":190,"opacity":1},"encoding":{
"x":{"field":"c","type":"quantitative","scale":{"type":"log","domain":[89,3290],"nice":false},"axis":{"orient":"top","values":[200,300,400,500,600,700,800,900,2000,3000],"tickSize":4.5,"offset":-4.5,"labelExpr":"''","labelPadding":0,"labelFontSize":1,"title":null}},
"y":{"field":"v","type":"quantitative","scale":{"type":"log","domain":[0.8,1000000],"nice":false},"axis":{"orient":"right","values":[2,3,4,5,6,7,8,9,20,30,40,50,60,70,80,90,200,300,400,500,600,700,800,900,2000,3000,4000,5000,6000,7000,8000,9000,20000,30000,40000,50000,60000,70000,80000,90000,200000,300000,400000,500000,600000,700000,800000,900000],"tickSize":4.5,"offset":-4.5,"labelExpr":"''","labelPadding":0,"labelFontSize":1,"title":null}},
"fill":{"field":"s","type":"nominal","scale":{"domain":["H1 Data","Djangoh","Rapgap","Backgrounds"],"range":["#000000","#3366ee","#ee1111","#11cc11"]},"legend":null},
"shape":{"field":"s","type":"nominal","scale":{"domain":["H1 Data","Djangoh","Rapgap","Backgrounds"],"range":["M0,-1L0,1M0.36,0L0.312,0.18L0.18,0.312L0,0.36L-0.18,0.312L-0.312,0.18L-0.36,0L-0.312,-0.18L-0.18,-0.312L0,-0.36L0.18,-0.312L0.312,-0.18Z","M-1.55,0L1.55,0","M-1.55,0L1.55,0","M-1.55,0L1.55,0"]},"legend":null}}},
{"data":{"values":[{}]},"mark":{"type":"text","text":"NC DIS","align":"left","baseline":"alphabetic","fontSize":16,"lineHeight":20,"color":"black"},"encoding":{
"x":{"datum":107.6,"type":"quantitative","scale":{"type":"log","domain":[89,3290],"nice":false},"axis":null},
"y":{"datum":246000,"type":"quantitative","scale":{"type":"log","domain":[0.8,1000000],"nice":false},"axis":null}}}
]},
{"width":282,"height":273.5,"data":{"name":"p6"},"resolve":{"axis":{"x":"independent","y":"independent"}},"layer":[
{"transform":[{"fold":["Rapgap"],"as":["s","v"]}],"mark":{"type":"line","interpolate":"step-after","strokeWidth":2.5},"encoding":{
"x":{"field":"x","type":"quantitative","scale":{"type":"log","domain":[89,3290],"nice":false},"axis":{"orient":"bottom","values":[200,300,400,500,600,700,800,900,2000,3000],"tickSize":4.5,"offset":-4.5,"labelExpr":"''","labelPadding":0,"labelFontSize":1,"title":null}},
"y":{"field":"v","type":"quantitative","scale":{"type":"log","domain":[0.8,1000000],"nice":false},"axis":{"orient":"left","values":[2,3,4,5,6,7,8,9,20,30,40,50,60,70,80,90,200,300,400,500,600,700,800,900,2000,3000,4000,5000,6000,7000,8000,9000,20000,30000,40000,50000,60000,70000,80000,90000,200000,300000,400000,500000,600000,700000,800000,900000],"tickSize":4.5,"offset":-4.5,"labelExpr":"''","labelPadding":0,"labelFontSize":1,"title":null}},
"stroke":{"field":"s","type":"nominal","scale":{"domain":["H1 Data","Djangoh","Rapgap","Backgrounds"],"range":["#000000","#3366ee","#ee1111","#11cc11"]},"legend":{"orient":"none","legendX":158.5,"legendY":13,"title":null}}}},
{"transform":[{"fold":["Djangoh"],"as":["s","v"]}],"mark":{"type":"line","interpolate":"step-after","strokeWidth":2.5},"encoding":{
"x":{"field":"x","type":"quantitative","scale":{"type":"log","domain":[89,3290],"nice":false},"axis":{"orient":"bottom","values":[100,1000],"tickSize":9,"offset":-9,"labelPadding":8,"labelOverlap":false,"labelFlush":false,"labelExpr":"datum.value==100?'10²':'10³'","title":"Q² [GeV²]","titleX":281,"titleY":51.3,"titleAlign":"right","titleBaseline":"alphabetic"}},
"y":{"field":"v","type":"quantitative","scale":{"type":"log","domain":[0.8,1000000],"nice":false},"axis":{"orient":"left","values":[1,10,100,1000,10000,100000,1000000],"tickSize":9,"offset":-9,"labelExpr":"''","labelPadding":0,"labelFontSize":1,"title":null}},
"stroke":{"field":"s","type":"nominal","scale":{"domain":["H1 Data","Djangoh","Rapgap","Backgrounds"],"range":["#000000","#3366ee","#ee1111","#11cc11"]},"legend":{"orient":"none","legendX":158.5,"legendY":13,"title":null}}}},
{"transform":[{"fold":["Backgrounds"],"as":["s","v"]}],"mark":{"type":"line","interpolate":"step-after","strokeWidth":2.5},"encoding":{
"x":{"field":"x","type":"quantitative","scale":{"type":"log","domain":[89,3290],"nice":false},"axis":{"orient":"top","values":[100,1000],"tickSize":9,"offset":-9,"labelExpr":"''","labelPadding":0,"labelFontSize":1,"title":null}},
"y":{"field":"v","type":"quantitative","scale":{"type":"log","domain":[0.8,1000000],"nice":false},"axis":{"orient":"right","values":[1,10,100,1000,10000,100000,1000000],"tickSize":9,"offset":-9,"labelExpr":"''","labelPadding":0,"labelFontSize":1,"title":null}},
"stroke":{"field":"s","type":"nominal","scale":{"domain":["H1 Data","Djangoh","Rapgap","Backgrounds"],"range":["#000000","#3366ee","#ee1111","#11cc11"]},"legend":{"orient":"none","legendX":158.5,"legendY":13,"title":null}}}},
{"transform":[{"filter":"isValid(datum.lo)"}],"mark":{"type":"rule","color":"black","strokeWidth":1.3},"encoding":{
"x":{"field":"c","type":"quantitative","scale":{"type":"log","domain":[89,3290],"nice":false},"axis":null},
"y":{"field":"lo","type":"quantitative","scale":{"type":"log","domain":[0.8,1000000],"nice":false},"axis":null},"y2":{"field":"hi"}}},
{"transform":[{"fold":["H1 Data"],"as":["s","v"]},{"filter":"isValid(datum.v)"}],"mark":{"type":"point","filled":true,"size":190,"opacity":1},"encoding":{
"x":{"field":"c","type":"quantitative","scale":{"type":"log","domain":[89,3290],"nice":false},"axis":{"orient":"top","values":[200,300,400,500,600,700,800,900,2000,3000],"tickSize":4.5,"offset":-4.5,"labelExpr":"''","labelPadding":0,"labelFontSize":1,"title":null}},
"y":{"field":"v","type":"quantitative","scale":{"type":"log","domain":[0.8,1000000],"nice":false},"axis":{"orient":"right","values":[2,3,4,5,6,7,8,9,20,30,40,50,60,70,80,90,200,300,400,500,600,700,800,900,2000,3000,4000,5000,6000,7000,8000,9000,20000,30000,40000,50000,60000,70000,80000,90000,200000,300000,400000,500000,600000,700000,800000,900000],"tickSize":4.5,"offset":-4.5,"labelExpr":"''","labelPadding":0,"labelFontSize":1,"title":null}},
"fill":{"field":"s","type":"nominal","scale":{"domain":["H1 Data","Djangoh","Rapgap","Backgrounds"],"range":["#000000","#3366ee","#ee1111","#11cc11"]},"legend":{"orient":"none","legendX":158.5,"legendY":13,"title":null}},
"shape":{"field":"s","type":"nominal","scale":{"domain":["H1 Data","Djangoh","Rapgap","Backgrounds"],"range":["M0,-1L0,1M0.36,0L0.312,0.18L0.18,0.312L0,0.36L-0.18,0.312L-0.312,0.18L-0.36,0L-0.312,-0.18L-0.18,-0.312L0,-0.36L0.18,-0.312L0.312,-0.18Z","M-1.55,0L1.55,0","M-1.55,0L1.55,0","M-1.55,0L1.55,0"]},"legend":{"orient":"none","legendX":158.5,"legendY":13,"title":null}}}},
{"data":{"values":[{}]},"mark":{"type":"text","text":["Empty current","hemisphere"],"align":"left","baseline":"alphabetic","fontSize":16,"lineHeight":20,"color":"black"},"encoding":{
"x":{"datum":113.2,"type":"quantitative","scale":{"type":"log","domain":[89,3290],"nice":false},"axis":null},
"y":{"datum":246000,"type":"quantitative","scale":{"type":"log","domain":[0.8,1000000],"nice":false},"axis":null}}}
]}
]
}
